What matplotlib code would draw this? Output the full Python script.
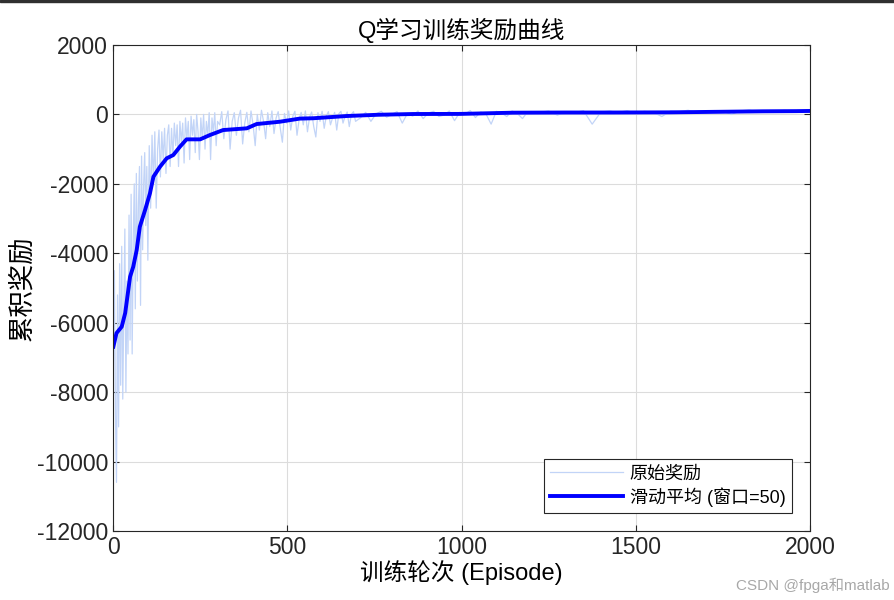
import numpy as np
import matplotlib
matplotlib.use('Agg')
import matplotlib.pyplot as plt
from matplotlib.patches import Rectangle

plt.rcParams['font.family'] = ['Liberation Sans', 'Noto Sans CJK SC', 'DejaVu Sans']
plt.rcParams['axes.unicode_minus'] = False

# raw episode rewards
raw_a = [-7400, -4500, -8600, -10600, -5200, -9000, -4300, -7800, -3800, -8200,
         -5600, -3300, -8000, -4800, -6900, -2900, -6500, -2300, -6900, -3600,
         -2000, -5600, -1700, -4800, -2600, -1500, -5500, -1200, -3900, -2000,
         -1100, -3200, -1500, -4200]                      # ep 1..100 step 3
raw_b = [-900, -2700, -600, -2000, -500, -2700, -1000, -450, -1800, -500,
         -1300, -400, -1700, -600, -300, -1500, -400, -1200, -250, -900,
         -300, -1500, -200, -800, -250, -1400, -100, -700, -200, -1300,
         -50, -600, -150, -1100, 0, -500, -1300, -100, -700, 0,
         -1000, -200, -600, 50, -1300, -100, -500, 50, -900, -200]   # ep 104..300 step 4
raw_c = [-300, 80, -700, -150, 100, -1000, -200, 50, -600, -100,
         120, -850, -250, 60, -500, 100, -300, -900, 0, -450,
         120, -200, -700, 50, -350, 100, -550, -100, 80, -400,
         -800, 30, -250, 100, -450, -50, 90, -600, -150, 60,
         -300, 100, -500, -80, 70, -350, -650, 50, -200, 90,
         -400, -50, 80, -300, -100, 60, -450, 20, 90, -250,
         -50, 70, -350, 0, 80, -200]                      # ep 306..696 step 6
raw_d = [-100, 60, -200, 20, 90, -80, 0, 80, -250, 30,
         -50, 100, -120, 40, 90, -60, -20, 100, -180, 60,
         10, 110, -90, 70, 20, -280, 90, 40, -60, 100,
         30, -120, 80]                                    # ep 710..1190 step 15
raw_e = [60, 100, -20, 80, 50, 110, -280, 70, 100, 50,
         110, 30, 90, 60, -60, 100, 80, 120, 60, 50,
         110, 90, 0, 100, 130, 70, 100, 60, 120, 90,
         110, 130]                                        # ep 1225..2000 step 25

# moving average (window 50)
ma_ep = [1, 10, 25, 35, 49, 58, 68, 77, 92, 106, 116, 135, 154, 173, 192, 211,
         250, 278, 316, 384, 412, 479, 536, 575, 670, 760, 861, 996, 1148, 1300,
         1435, 1600, 1865, 1960, 2000]
ma_val = [-6690, -6300, -6115, -5720, -4675, -4390, -3905, -3235, -2755, -2275,
          -1795, -1505, -1265, -1170, -930, -718, -718, -594, -450, -400,
          -277, -210, -120, -110, -46, -10, 12, 15, 50, 55,
          55, 60, 90, 95, 100]

raw_ep = np.concatenate([np.arange(1, 101, 3), np.arange(104, 301, 4),
                         np.arange(306, 700, 6), np.arange(710, 1191, 15),
                         np.arange(1225, 2001, 25)])
raw_val = np.array(raw_a + raw_b + raw_c + raw_d + raw_e)

fig = plt.figure(figsize=(8.94, 6), dpi=100)
ax = fig.add_axes([113/894, 69/600, 697/894, 486/600])

ax.plot(raw_ep, raw_val, color='#c2d4f7', lw=0.9, label='原始奖励')
ax.plot(ma_ep, ma_val, color='#0000ff', lw=2.8, label='滑动平均 (窗口=50)')

ax.set_xlim(0, 2000)
ax.set_ylim(-12000, 2000)
ax.set_xticks([0, 500, 1000, 1500, 2000])
ax.set_yticks(np.arange(-12000, 2001, 2000))
ax.grid(True, color='#dcdcdc', lw=0.8)
ax.set_axisbelow(True)
ax.tick_params(direction='in', top=True, right=True, length=4, labelsize=16.5,
               colors='#262626')
for s in ax.spines.values():
    s.set_color('#262626')
    s.set_linewidth(0.8)

ax.set_title('Q学习训练奖励曲线', fontsize=17, pad=5)
ax.set_xlabel('训练轮次 (Episode)', fontsize=17, labelpad=1)
ax.set_ylabel('累积奖励', fontsize=19, labelpad=2)

leg = ax.legend(loc='lower right', fontsize=13, fancybox=False, framealpha=1,
                edgecolor='#262626', borderaxespad=1.0, handlelength=4.0,
                borderpad=0.35, labelspacing=0.25, handletextpad=0.4)
leg.get_frame().set_linewidth(0.8)

fig.text(0.995, 0.012, 'CSDN @fpga和matlab', ha='right', va='bottom',
         fontsize=11, color='#a8a8a8')
fig.patches.append(Rectangle((0, 0.996), 1, 0.004, transform=fig.transFigure,
                             color='#303030', zorder=10))

fig.savefig('out.png', dpi=100)
